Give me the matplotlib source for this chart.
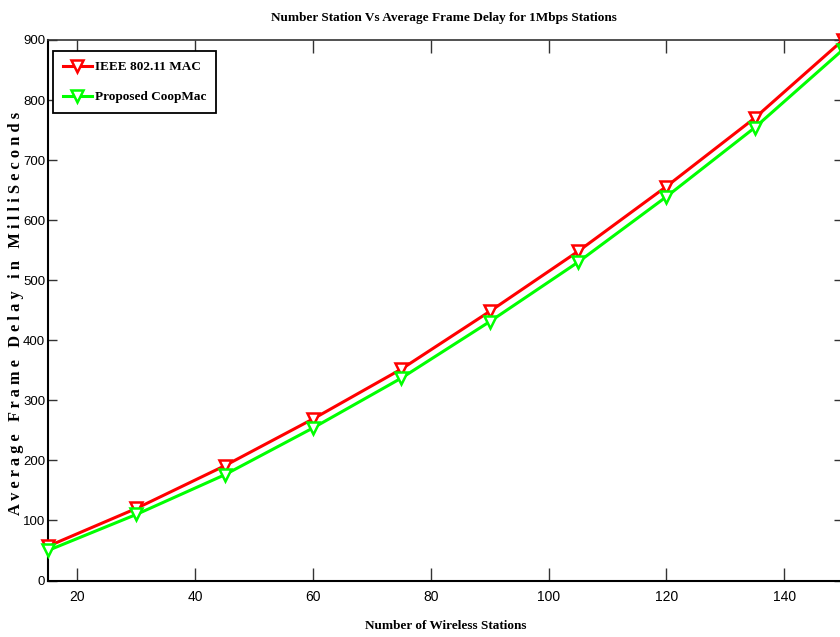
import matplotlib
matplotlib.use("Agg")
import matplotlib.pyplot as plt

# ---------------------------------------------------------------------------
# Data
# ---------------------------------------------------------------------------
stations = [15, 30, 45, 60, 75, 90, 105, 120, 135, 150]
ieee_delay = [57, 120, 191, 269, 352, 448, 548, 656, 770, 900]
coop_delay = [50, 110, 176, 254, 337, 431, 530, 639, 754, 884]

x_ticks = [20, 40, 60, 80, 100, 120, 140]
y_ticks = [0, 100, 200, 300, 400, 500, 600, 700, 800, 900]

SERIF = ["Liberation Serif", "DejaVu Serif"]
NARROW = ["Liberation Sans Narrow", "Liberation Sans", "DejaVu Sans"]

W, H = 840, 637
fig = plt.figure(figsize=(W / 100, H / 100), dpi=100)

# axes box in pixels: left 48, right 843 (just past the edge), top 40, bottom 580.5
left, right, top, bottom = 48, 843, 40, 580.5
ax = fig.add_axes([left / W, (H - bottom) / H, (right - left) / W, (bottom - top) / H])

ax.plot(stations, ieee_delay, color=(1, 0, 0), linewidth=2.2,
        marker="v", markersize=9, markeredgewidth=1.8,
        markerfacecolor="white", markeredgecolor=(1, 0, 0),
        label="IEEE 802.11 MAC", clip_on=False, zorder=3)
ax.plot(stations, coop_delay, color=(0, 1, 0), linewidth=2.2,
        marker="v", markersize=9, markeredgewidth=1.8,
        markerfacecolor="white", markeredgecolor=(0, 1, 0),
        label="Proposed CoopMac", clip_on=False, zorder=4)

ax.set_xlim(15, 150)
ax.set_ylim(0, 900)
ax.set_xticks(x_ticks)
ax.set_yticks(y_ticks)

ax.tick_params(axis="x", direction="in", length=9.5, width=1.0, color="#333333",
               top=True, pad=7, labelsize=10)
ax.tick_params(axis="y", direction="in", length=6.5, width=1.0, color="#333333",
               right=True, pad=2, labelsize=9.5)
for lab in ax.get_xticklabels() + ax.get_yticklabels():
    lab.set_family(NARROW)

for side in ["left", "bottom", "top", "right"]:
    ax.spines[side].set_linewidth(1.5)
    ax.spines[side].set_color("black")
ax.spines["top"].set_color("#333333")
ax.spines["top"].set_linewidth(1.2)

# --- Labels -----------------------------------------------------------------
ax.set_xlabel("Number of Wireless Stations", family=SERIF, fontweight="bold",
              fontsize=9.5)
ax.xaxis.set_label_coords(0.5, -(626 - bottom) / (bottom - top))
ax.xaxis.label.set_verticalalignment("center")

# letter-spaced, as in the original
ylab = "A v e r a g e   F r a m e   D e l a y   i n   M i l l i S e c o n d s"
ax.set_ylabel(ylab, family=SERIF, fontweight="bold", fontsize=11.8)
ax.yaxis.set_label_coords((16 - left) / (right - left), (bottom - 313.5) / (bottom - top))
ax.yaxis.label.set_verticalalignment("center")

fig.text(444 / W, 1 - 18 / H, "Number Station Vs Average Frame Delay for 1Mbps Stations",
         ha="center", va="center", family=SERIF, fontweight="bold", fontsize=9.5)

# --- Legend -----------------------------------------------------------------
leg = ax.legend(loc="upper left",
                bbox_to_anchor=((53 - left) / (right - left), (bottom - 51) / (bottom - top)),
                borderaxespad=0, fancybox=False, framealpha=1, edgecolor="black",
                prop={"family": SERIF, "weight": "bold", "size": 9.5},
                handlelength=2.2, handletextpad=0.25, labelspacing=1.35,
                borderpad=0.75)
leg.get_frame().set_linewidth(1.3)

fig.savefig("out.png", dpi=100, facecolor="white")
